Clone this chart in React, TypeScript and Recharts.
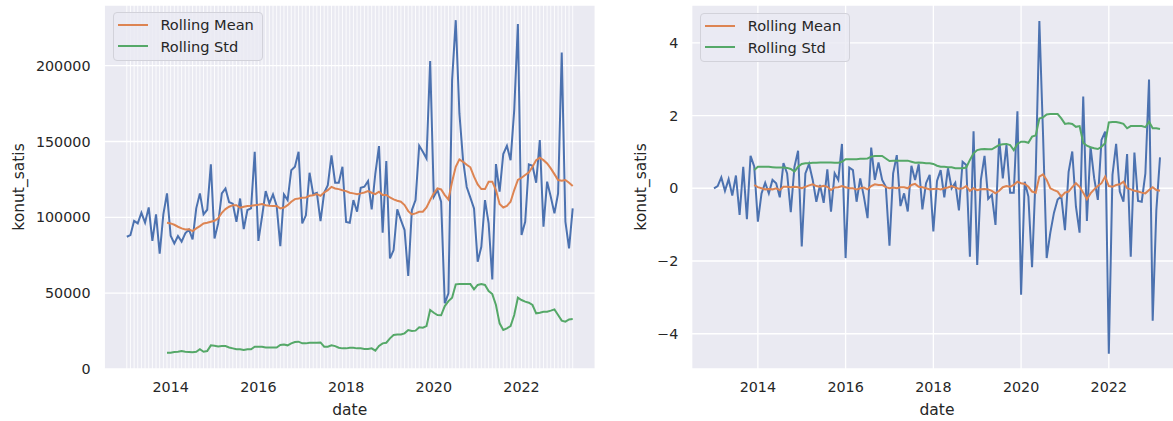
import React from 'react';
import { LineChart, Line, XAxis, YAxis, CartesianGrid, Legend } from 'recharts';

// ---------- data ----------
// months counted from January 2013 (0 = 2013-01, 122 = 2023-03)
const monthIndex: number[] = Array.from({ length: 123 }, (_, i) => i);
const yearTicks = [12, 36, 60, 84, 108];
const yearLabels = ['2014', '2016', '2018', '2020', '2022'];
const rollStart = 11; // rolling window of 12 -> first value at month 11

const salesTicks = [0, 50000, 100000, 150000, 200000];
const diffTicks = [-4, -2, 0, 2, 4];

const sales = [
  87200, 88300, 97700, 96000, 103000, 96500, 106500, 84500, 102000, 76000,
  102000, 115800, 87900, 82800, 87700, 84000, 89500, 92000, 85500, 105900,
  115800, 102000, 105000, 135000, 86000, 96000, 115800, 119000, 110000, 109000,
  97000, 112400, 92200, 104800, 105900, 143200, 84500, 100400, 117300, 109200,
  115100, 107600, 81000, 115100, 111400, 131100, 133300, 143200, 96000, 101300,
  129400, 115300, 116200, 97500, 116200, 121200, 140800, 122800, 122800, 133300,
  97000, 96400, 111400, 103700, 119500, 120200, 123900, 105200, 128900, 147000,
  89900, 137100, 72900, 78400, 105200, 98200, 91600, 61300, 104800, 111400,
  147200, 143200, 138800, 203000, 113600, 118000, 110300, 43300, 49900, 190500,
  230000, 168500, 137700, 120000, 113000, 105900, 70700, 80600, 111400, 96000,
  59100, 135100, 116900, 141700, 147200, 137700, 170700, 227400, 88300, 97100,
  134900, 134000, 122800, 150900, 93800, 123500, 113600, 102600, 115800, 208700,
  97100, 79500, 105900,
];

const salesMean = [
  96400, 96000, 95100, 93800, 92700, 92000, 92200, 90900, 92700, 94200,
  96000, 96400, 97100, 97700, 99300, 103000, 105400, 107000, 108000, 108000,
  106300, 107000, 107400, 107600, 108000, 108300, 108700, 108000, 107600, 107400,
  107400, 105900, 106500, 108000, 110300, 112000, 112400, 112900, 113100, 114200,
  114600, 115300, 114200, 116400, 117900, 120100, 119000, 118600, 117900, 117300,
  116200, 115800, 115300, 115800, 116400, 117300, 116200, 115300, 116900, 114700,
  114700, 113100, 111800, 110900, 110300, 108100, 104100, 101900, 102600, 103700,
  103700, 106500, 111400, 115800, 119100, 118400, 114700, 111800, 123500, 133300,
  138200, 136600, 134700, 133000, 126800, 121700, 118600, 118600, 123500, 123500,
  118000, 108800, 106500, 107600, 110300, 118000, 124600, 126100, 127900, 129600,
  133300, 137700, 139300, 137700, 135500, 132300, 128500, 124600, 124100, 124600,
  122800, 120600,
];

const salesStd = [
  10700, 10700, 11200, 11400, 11800, 11400, 11200, 11000, 11400, 13000,
  11400, 11800, 15600, 15300, 14900, 15100, 15100, 14200, 13600, 13000,
  13000, 12500, 13000, 13000, 14700, 14700, 14700, 14200, 14200, 14200,
  14200, 15800, 16200, 15600, 16900, 17800, 18000, 16900, 16900, 17300,
  17300, 17300, 17500, 14700, 14700, 15600, 15100, 14000, 13600, 13600,
  14000, 14000, 13600, 13600, 13200, 13200, 13600, 12100, 15200, 16900,
  17300, 20200, 22400, 22800, 22800, 23500, 25700, 25100, 25300, 27500,
  27200, 28300, 38900, 37100, 35600, 35400, 41500, 44800, 47000, 55800,
  56000, 56000, 56000, 56000, 52500, 55400, 56000, 55400, 51400, 49400,
  42200, 30100, 25700, 26800, 28300, 35600, 47000, 45500, 44400, 43700,
  42200, 36700, 37100, 37800, 37800, 38500, 39300, 35600, 31900, 31200,
  32700, 32900,
];

const diffs = [
  0, 0.06, 0.3, -0.07, 0.25, -0.2, 0.35, -0.73, 0.59, -0.85,
  0.89, 0.6, -0.92, -0.14, 0.15, -0.14, 0.23, 0.14, -0.25, 0.69,
  0.41, -0.66, 0.59, 1.03, -1.6, 0.41, 0.67, 0.23, -0.37, 0.09,
  -0.4, 0.52, -0.64, 0.41, 0.23, 1.22, -1.92, 0.57, 0.5, -0.37,
  0.27, -0.23, -0.82, 1.12, 0.23, 0.71, 0.23, 0.04, -1.58, 0.41,
  0.91, -0.49, -0.14, -0.64, 0.62, 0.23, 0.66, -0.58, 0.14, 0.37,
  -1.19, 0.2, 0.5, -0.25, 0.55, 0, 0.15, -0.61, 0.73, 0.64,
  -1.88, 1.57, -2.11, 0.23, 0.89, -0.29, -0.18, -1.01, 1.37, 0.27,
  1.19, -0.12, -0.12, 2.12, -2.93, 0.18, -0.23, -2.17, 0.4, 4.6,
  1.5, -1.92, -1.22, -0.67, -0.31, -0.22, -1.15, 0.45, 1.01, -0.5,
  -1.22, 2.52, -0.9, 1.14, 0.27, -0.32, 1.33, 1.56, -4.55, 0.37,
  1.22, -0.09, -0.37, 0.94, -1.88, 0.98, -0.35, -0.37, 0.41, 2.99,
  -3.64, -0.6, 0.85,
];

const diffsMean = [
  0.09, 0.03, 0, -0.03, -0.02, -0.03, 0, -0.05, 0.04, 0.04,
  0.03, 0.04, 0.03, 0, 0.04, 0.08, 0.11, 0.06, 0.04, 0.07,
  0.04, -0.05, 0.02, 0.03, 0.06, 0.03, 0, 0, -0.03, 0,
  0.02, -0.03, 0.06, 0.11, 0.09, 0.09, 0.03, 0, 0.02, 0,
  0.03, 0.03, 0, 0.09, 0.12, 0.04, 0.03, 0, -0.03, -0.02,
  -0.01, -0.03, 0, 0.02, 0.06, 0.02, -0.01, 0, 0.06, -0.07,
  0, -0.05, -0.03, -0.02, -0.03, -0.07, -0.14, -0.07, 0.03, 0.06,
  0.04, 0.09, 0.18, 0.14, 0.12, 0.04, -0.09, -0.12, 0.32, 0.38,
  0.23, 0, -0.05, -0.09, -0.23, -0.12, -0.09, 0.03, 0.14, 0.04,
  -0.12, -0.3, -0.14, -0.03, 0.06, 0.14, 0.32, 0.06, 0.04, 0.09,
  0.11, 0.18, 0, -0.03, -0.07, -0.09, -0.12, -0.14, -0.05, 0.03,
  -0.05, -0.07,
];

const diffsStd = [
  0.5, 0.59, 0.59, 0.59, 0.59, 0.58, 0.57, 0.57, 0.57, 0.56,
  0.53, 0.46, 0.59, 0.67, 0.69, 0.69, 0.7, 0.7, 0.71, 0.71,
  0.71, 0.71, 0.7, 0.7, 0.73, 0.8, 0.8, 0.8, 0.8, 0.81,
  0.81, 0.82, 0.87, 0.89, 0.89, 0.89, 0.82, 0.75, 0.76, 0.76,
  0.76, 0.76, 0.76, 0.73, 0.7, 0.71, 0.7, 0.69, 0.69, 0.67,
  0.62, 0.59, 0.59, 0.58, 0.58, 0.55, 0.55, 0.55, 0.57, 0.78,
  0.96, 1.05, 1.07, 1.08, 1.07, 1.07, 1.13, 1.19, 1.21, 1.22,
  1.19, 1.05, 1.22, 1.28, 1.28, 1.25, 1.42, 1.45, 1.92, 1.95,
  2.03, 2.04, 2.04, 2.04, 1.92, 1.77, 1.79, 1.77, 1.69, 1.71,
  1.25, 1.17, 1.13, 1.1, 1.08, 1.14, 1.24, 1.81, 1.82, 1.82,
  1.8, 1.77, 1.65, 1.71, 1.71, 1.71, 1.71, 1.68, 1.83, 1.65,
  1.65, 1.63,
];

// ---------- style ----------
const FONT = '"DejaVu Sans", sans-serif';
const TEXT = '#262626';
const BG = '#eaeaf2';
const BLUE = '#4c72b0';
const ORANGE = '#dd8452';
const GREEN = '#55a868';
const LW = 2;

function buildRows(values: number[], mean: number[], std: number[]) {
  return monthIndex.map((t, i) => ({
    t,
    v: values[i],
    m: i >= rollStart ? mean[i - rollStart] : null,
    s: i >= rollStart ? std[i - rollStart] : null,
  }));
}

const leftRows = buildRows(sales, salesMean, salesStd);
const rightRows = buildRows(diffs, diffsMean, diffsStd);

const fmtYear = (v: number) => {
  const k = yearTicks.indexOf(v);
  return k >= 0 ? yearLabels[k] : '';
};
const fmtNum = (v: number) => (v < 0 ? '\u2212' + Math.abs(v) : String(v));

const tickStyle = { fontSize: 14.3, fill: TEXT, fontFamily: FONT };

const LegendBox = (props: any) => {
  const items = (props.payload || []).filter(
    (p: any) => p.value === 'Rolling Mean' || p.value === 'Rolling Std'
  );
  return (
    <div
      style={{
        width: 150,
        height: 49,
        boxSizing: 'border-box',
        background: 'rgba(234,234,242,0.8)',
        border: '1px solid #d2d2da',
        borderRadius: 4,
        padding: '1px 0 0 4px',
        fontFamily: FONT,
        fontSize: 14.6,
        color: TEXT,
      }}
    >
      {items.map((p: any) => (
        <div key={p.value} style={{ display: 'flex', alignItems: 'center', height: 21.7 }}>
          <span
            style={{
              display: 'inline-block',
              width: 30,
              height: 0,
              borderTop: `2px solid ${p.color}`,
              marginRight: 12.7,
            }}
          />
          <span style={{ lineHeight: '17px', whiteSpace: 'nowrap' }}>{p.value}</span>
        </div>
      ))}
    </div>
  );
};

interface PanelProps {
  rows: any[];
  yDomain: [number, number];
  yTicks: number[];
  yAxisWidth: number;
  rightMargin: number;
  monthlyGrid: boolean;
  labelOffset: number;
  tickMarginY: number;
  legendLeft: number;
  legendTop: number;
}

function Panel(p: PanelProps) {
  return (
    <LineChart
      width={600}
      height={421}
      data={p.rows}
      margin={{ top: 5, right: p.rightMargin, bottom: 0, left: 0 }}
    >
      <CartesianGrid fill={BG} stroke="#ffffff" strokeWidth={1.3} horizontal vertical={!p.monthlyGrid} />
      {p.monthlyGrid && (
        <CartesianGrid
          stroke="#ffffff"
          strokeWidth={1}
          strokeOpacity={0.85}
          horizontal={false}
          vertical
          fill="none"
        />
      )}
      <XAxis
        dataKey="t"
        type="number"
        domain={[-6.1, 128.1]}
        allowDataOverflow
        ticks={p.monthlyGrid ? monthIndex : yearTicks}
        interval={0}
        tickFormatter={fmtYear}
        axisLine={false}
        tickLine={false}
        tickSize={0}
        tickMargin={13}
        height={52}
        tick={tickStyle}
        label={{
          value: 'date',
          position: 'insideBottom',
          offset: 6,
          fill: TEXT,
          fontSize: 15.5,
          fontFamily: FONT,
        }}
      />
      <YAxis
        type="number"
        domain={p.yDomain}
        allowDataOverflow
        ticks={p.yTicks}
        interval={0}
        tickFormatter={fmtNum}
        width={p.yAxisWidth}
        axisLine={false}
        tickLine={false}
        tickSize={0}
        tickMargin={p.tickMarginY}
        tick={tickStyle}
        label={{
          value: 'konut_satis',
          angle: -90,
          position: 'insideLeft',
          offset: p.labelOffset,
          fill: TEXT,
          fontSize: 15.5,
          fontFamily: FONT,
          style: { textAnchor: 'middle' },
        }}
      />
      <Line
        dataKey="v"
        stroke={BLUE}
        strokeWidth={LW}
        dot={false}
        activeDot={false}
        legendType="none"
        isAnimationActive={false}
      />
      <Line
        dataKey="m"
        name="Rolling Mean"
        stroke={ORANGE}
        strokeWidth={LW}
        dot={false}
        activeDot={false}
        isAnimationActive={false}
      />
      <Line
        dataKey="s"
        name="Rolling Std"
        stroke={GREEN}
        strokeWidth={LW}
        dot={false}
        activeDot={false}
        isAnimationActive={false}
      />
      <Legend
        layout="vertical"
        align="center"
        verticalAlign="middle"
        width={150}
        height={49}
        wrapperStyle={{ left: p.legendLeft, top: p.legendTop, width: 150, height: 49 }}
        content={(props: any) => <LegendBox {...props} />}
      />
    </LineChart>
  );
}

export default function App() {
  return (
    <div
      style={{
        position: 'absolute',
        left: 0,
        top: 0,
        width: 1173,
        height: 421,
        overflow: 'hidden',
        background: '#ffffff',
        fontFamily: FONT,
      }}
    >
      <div style={{ position: 'absolute', left: 0, top: 0, width: 600, height: 421 }}>
        <Panel
          rows={leftRows}
          yDomain={[0, 240000]}
          yTicks={salesTicks}
          yAxisWidth={104.5}
          rightMargin={5}
          monthlyGrid={true}
          labelOffset={18}
          tickMarginY={14}
          legendLeft={112.7}
          legendTop={11.7}
        />
      </div>
      <div style={{ position: 'absolute', left: 600, top: 0, width: 600, height: 421 }}>
        <Panel
          rows={rightRows}
          yDomain={[-4.97, 5.04]}
          yTicks={diffTicks}
          yAxisWidth={91.7}
          rightMargin={17.7}
          monthlyGrid={false}
          labelOffset={40.7}
          tickMarginY={13.4}
          legendLeft={100}
          legendTop={12.7}
        />
      </div>
    </div>
  );
}
